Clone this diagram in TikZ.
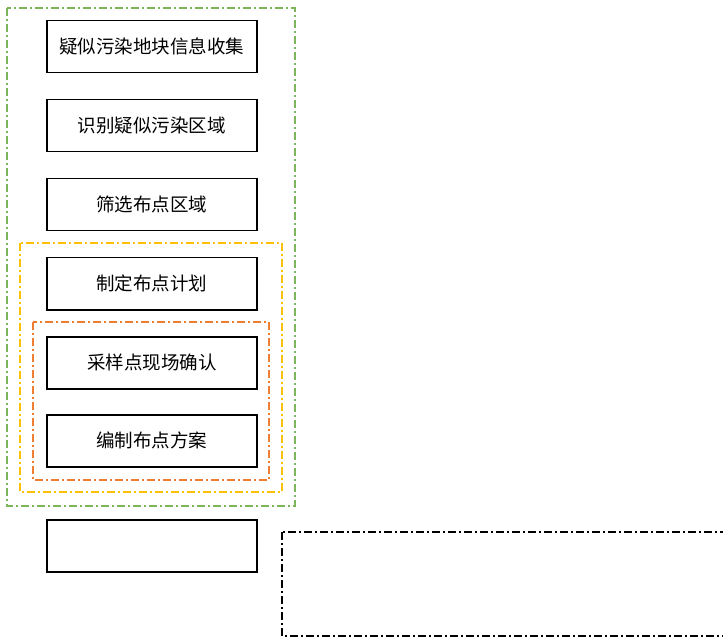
\documentclass[tikz,border=0pt]{standalone}
\usepackage{fontspec}
\newfontfamily\cjk{Noto Sans CJK SC}
\definecolor{grn}{HTML}{7DB55A}
\definecolor{ylw}{HTML}{FFC000}
\definecolor{org}{HTML}{ED7D31}
\begin{document}
\begin{tikzpicture}[x=1pt,y=-1pt,
  stepbox/.style={draw=black, line width=1.5pt, minimum width=210pt, minimum height=52pt, inner sep=0pt, font=\cjk\fontsize{18.5}{20}\selectfont, anchor=north west},
  dashdot/.style={line width=1.2pt, dash pattern=on 8pt off 3pt on 2pt off 3pt}]
\clip (0,0) rectangle (723,639);
\useasboundingbox (0,0) rectangle (723,639);
\fill[white] (0,0) rectangle (723,639);
\node[stepbox] (s1) at (46,20) {疑似污染地块信息收集};
\node[stepbox] (s2) at (46,99) {识别疑似污染区域};
\node[stepbox] (s3) at (46,178) {筛选布点区域};
\node[stepbox] (s4) at (46,257) {制定布点计划};
\node[stepbox] (s5) at (46,336) {采样点现场确认};
\node[stepbox] (s6) at (46,414) {编制布点方案};
\node[stepbox] (s7) at (46,519) {};
\draw[dashdot, grn] (7,8) rectangle (295,506);
\draw[dashdot, ylw] (20,243) rectangle (282,492);
\draw[dashdot, org] (33,322) rectangle (269,480);
\draw[dashdot, black] (282,532) rectangle (745,636);
\end{tikzpicture}
\end{document}
